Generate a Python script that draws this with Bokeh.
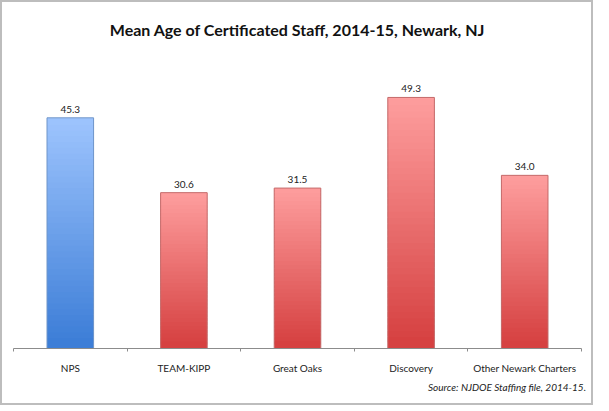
from bokeh.plotting import figure
from bokeh.models import FixedTicker, Range1d, ColumnDataSource, LabelSet, Div
from bokeh.layouts import column
from bokeh.embed import file_html
from bokeh.resources import INLINE
from bokeh.core.properties import value

categories = ["NPS", "TEAM-KIPP", "Great Oaks", "Discovery", "Other Newark Charters"]
mean_age = [45.3, 30.6, 31.5, 49.3, 34.0]
labels = ["45.3", "30.6", "31.5", "49.3", "34.0"]
groups = ["blue", "red", "red", "red", "red"]
title_text = "Mean Age of Certificated Staff, 2014-15, Newark, NJ"
source_text = "Source: NJDOE Staffing file, 2014-15."

GRAD = {"blue": ((0xA0, 0xC6, 0xFF), (0x3C, 0x7D, 0xD6), "#6F95C9"),
        "red": ((0xFF, 0xA0, 0xA0), (0xD5, 0x40, 0x40), "#C46A6A")}
BAR_W = 0.41
N = 40

p = figure(width=589, height=374, output_backend="svg", toolbar_location=None,
           x_range=Range1d(0, len(categories)), y_range=Range1d(0, 59.5),
           min_border_left=11, min_border_right=10, min_border_top=43, min_border_bottom=22)
p.outline_line_color = None
p.xgrid.visible = False
p.ygrid.visible = False
p.yaxis.visible = False
p.background_fill_color = "white"
p.border_fill_color = "white"

def mix(a, b, t):
    return "#%02x%02x%02x" % tuple(int(round(a[k] + (b[k] - a[k]) * t)) for k in range(3))

for i, (v, g) in enumerate(zip(mean_age, groups)):
    top_c, bot_c, edge = GRAD[g]
    cx = i + 0.5
    step = v / N
    lefts, rights, bottoms, tops, colors = [], [], [], [], []
    for k in range(N):
        y0 = step * k
        y1 = min(v, step * (k + 1) + step * 0.8)
        lefts.append(cx - BAR_W / 2); rights.append(cx + BAR_W / 2)
        bottoms.append(y0); tops.append(y1)
        colors.append(mix(bot_c, top_c, (k + 0.5) / N))
    p.quad(left=lefts[::-1], right=rights[::-1], bottom=bottoms[::-1], top=tops[::-1],
           fill_color=colors[::-1], line_color=None)
    p.quad(left=[cx - BAR_W / 2], right=[cx + BAR_W / 2], bottom=[0], top=[v],
           fill_color=None, line_color=edge, line_width=1)

src = ColumnDataSource(dict(x=[i + 0.5 for i in range(len(categories))], y=mean_age, t=labels))
p.add_layout(LabelSet(x="x", y="y", text="t", source=src, y_offset=5,
                      text_align="center", text_baseline="bottom",
                      text_font=value("Lato"), text_font_size="10px", text_color="#222222"))

ax = p.xaxis[0]
ax.ticker = FixedTicker(ticks=[i + 0.5 for i in range(len(categories))],
                        minor_ticks=list(range(len(categories) + 1)))
ax.major_label_overrides = {i + 0.5: c for i, c in enumerate(categories)}
ax.major_tick_line_color = None
ax.major_tick_out = 0
ax.minor_tick_in = 0
ax.minor_tick_out = 3
ax.minor_tick_line_color = "#8C8C8C"
ax.axis_line_color = "#8C8C8C"
ax.major_label_standoff = 10
ax.major_label_text_font = "Lato"
ax.major_label_text_font_size = "10px"
ax.major_label_text_color = "#222222"

p.title.text = title_text
p.title.align = "center"
p.title.text_font = "Lato"
p.title.text_font_style = "bold"
p.title.text_font_size = "16px"
p.title.text_color = "#111111"
p.title.standoff = 14

note = Div(text=source_text, width=579, height=17,
           styles={"font-family": "Lato", "font-style": "italic", "font-size": "10px",
                   "color": "#222222", "text-align": "right", "line-height": "13px"})

layout = column(p, note, spacing=0,
                styles={"border": "2px solid #BDBDBD", "background-color": "white"})

open("out.html", "w").write(file_html(layout, INLINE))
